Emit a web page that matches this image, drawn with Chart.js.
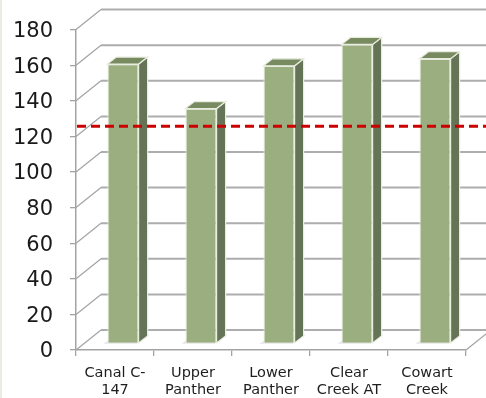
<!DOCTYPE html>
<html>
<head>
<meta charset="utf-8">
<script src="https://cdn.jsdelivr.net/npm/chart.js@4.4.1/dist/chart.umd.min.js"></script>
<style>
  html, body { margin: 0; padding: 0; background: #fff; }
  #wrap { position: relative; width: 486px; height: 398px; }
</style>
</head>
<body>
<div id="wrap"><canvas id="chart"></canvas></div>
<script>
// sites and measured values
const categories = [['Canal C-', '147'], ['Upper', 'Panther'], ['Lower', 'Panther'], ['Clear', 'Creek AT'], ['Cowart', 'Creek']];
const values = [157, 132, 156, 168, 160];
const threshold = 122;
const yMin = 0;
const yMax = 180;
const yStep = 20;

// fake 3D: offsets of the back wall and of the bar row relative to the front plane
const DEPTH = { x: 25, y: -20 };
const BAR_SHIFT = { x: 8, y: -6.5 };
const BAR_DEPTH = { x: 9, y: -7 };

const GRID = '#adadad';
const EDGE = '#a3a3a3';

const wall3d = {
  id: 'wall3d',
  beforeDraw(chart) {
    const { ctx } = chart;
    ctx.save();
    ctx.fillStyle = '#ebebe3';
    ctx.fillRect(0, 0, 2, chart.height);
    ctx.restore();
  },
  beforeDatasetsDraw(chart) {
    const { ctx, chartArea: a, scales: { y } } = chart;
    ctx.save();
    // back wall grid lines and the slanted lines on the left wall
    y.ticks.forEach(t => {
      const py = y.getPixelForValue(t.value);
      ctx.strokeStyle = GRID;
      ctx.lineWidth = 2;
      ctx.beginPath();
      ctx.moveTo(a.left + DEPTH.x, py + DEPTH.y);
      ctx.lineTo(a.right + DEPTH.x, py + DEPTH.y);
      ctx.stroke();
      ctx.strokeStyle = EDGE;
      ctx.lineWidth = 1.3;
      ctx.beginPath();
      ctx.moveTo(a.left, py);
      ctx.lineTo(a.left + DEPTH.x, py + DEPTH.y);
      ctx.stroke();
    });
    // right edge of the floor
    ctx.strokeStyle = EDGE;
    ctx.lineWidth = 1.3;
    ctx.beginPath();
    ctx.moveTo(a.right, a.bottom);
    ctx.lineTo(a.right + DEPTH.x, a.bottom + DEPTH.y);
    ctx.stroke();
    // soft shadows of the bars on the floor
    const meta = chart.getDatasetMeta(0);
    meta.data.forEach(bar => {
      const l = bar.x - bar.width / 2 + BAR_SHIFT.x;
      const b = bar.base + BAR_SHIFT.y;
      ctx.fillStyle = 'rgba(120,120,120,0.18)';
      ctx.beginPath();
      ctx.moveTo(l - 4, b + 1);
      ctx.lineTo(l + bar.width - 2, b + 1);
      ctx.lineTo(l + bar.width + BAR_DEPTH.x + 2, b + BAR_DEPTH.y - 1);
      ctx.lineTo(l + BAR_DEPTH.x, b + BAR_DEPTH.y - 1);
      ctx.closePath();
      ctx.fill();
    });
    ctx.restore();
    // bars sit a little behind the front plane
    ctx.save();
    ctx.translate(BAR_SHIFT.x, BAR_SHIFT.y);
  },
  afterDatasetsDraw(chart) {
    const { ctx } = chart;
    const meta = chart.getDatasetMeta(0);
    meta.data.forEach(bar => {
      const l = bar.x - bar.width / 2;
      const r = bar.x + bar.width / 2;
      const top = bar.y;
      const bot = bar.base;
      ctx.strokeStyle = '#e9eddf';
      ctx.lineWidth = 1.2;
      // side face
      ctx.fillStyle = '#657457';
      ctx.beginPath();
      ctx.moveTo(r, top);
      ctx.lineTo(r + BAR_DEPTH.x, top + BAR_DEPTH.y);
      ctx.lineTo(r + BAR_DEPTH.x, bot + BAR_DEPTH.y);
      ctx.lineTo(r, bot);
      ctx.closePath();
      ctx.fill();
      ctx.stroke();
      // top face
      ctx.fillStyle = '#788a60';
      ctx.beginPath();
      ctx.moveTo(l, top);
      ctx.lineTo(l + BAR_DEPTH.x, top + BAR_DEPTH.y);
      ctx.lineTo(r + BAR_DEPTH.x, top + BAR_DEPTH.y);
      ctx.lineTo(r, top);
      ctx.closePath();
      ctx.fill();
      ctx.stroke();
    });
    ctx.restore();

    // dashed reference line, in the plane of the bars
    const { chartArea: a, scales: { y } } = chart;
    const py = y.getPixelForValue(threshold) + BAR_SHIFT.y;
    ctx.save();
    ctx.strokeStyle = '#cc0000';
    ctx.lineWidth = 3;
    ctx.setLineDash([9, 5]);
    ctx.beginPath();
    ctx.moveTo(a.left + 1, py);
    ctx.lineTo(chart.width, py);
    ctx.stroke();
    ctx.restore();
  }
};

new Chart(document.getElementById('chart'), {
  type: 'bar',
  data: {
    labels: categories,
    datasets: [{
      data: values,
      backgroundColor: '#9bae80',
      borderColor: '#e9eddf',
      borderWidth: 1.2,
      barPercentage: 0.4,
      categoryPercentage: 1,
      clip: false
    }]
  },
  options: {
    responsive: true,
    maintainAspectRatio: false,
    animation: false,
    events: [],
    layout: { padding: { top: 27, right: 20, left: 0, bottom: 0 } },
    plugins: { legend: { display: false }, tooltip: { enabled: false } },
    scales: {
      x: {
        afterFit(s) { s.height = 48; },
        grid: { drawOnChartArea: false, offset: true, color: EDGE, tickLength: 6, lineWidth: 1.3 },
        border: { color: EDGE, width: 1.5 },
        ticks: {
          color: '#1e1e1e',
          font: { family: 'DejaVu Sans', size: 14.5, lineHeight: 1.16 },
          padding: 9,
          maxRotation: 0,
          autoSkip: false
        }
      },
      y: {
        min: yMin,
        max: yMax,
        afterFit(s) { s.width = 76; },
        grid: { drawOnChartArea: false, color: EDGE, tickLength: 6, lineWidth: 1.3 },
        border: { color: EDGE, width: 1.5 },
        ticks: {
          stepSize: yStep,
          color: '#1a1a1a',
          font: { family: 'DejaVu Sans', size: 21 },
          padding: 17,
          labelOffset: 2
        }
      }
    }
  },
  plugins: [wall3d]
});
</script>
</body>
</html>
